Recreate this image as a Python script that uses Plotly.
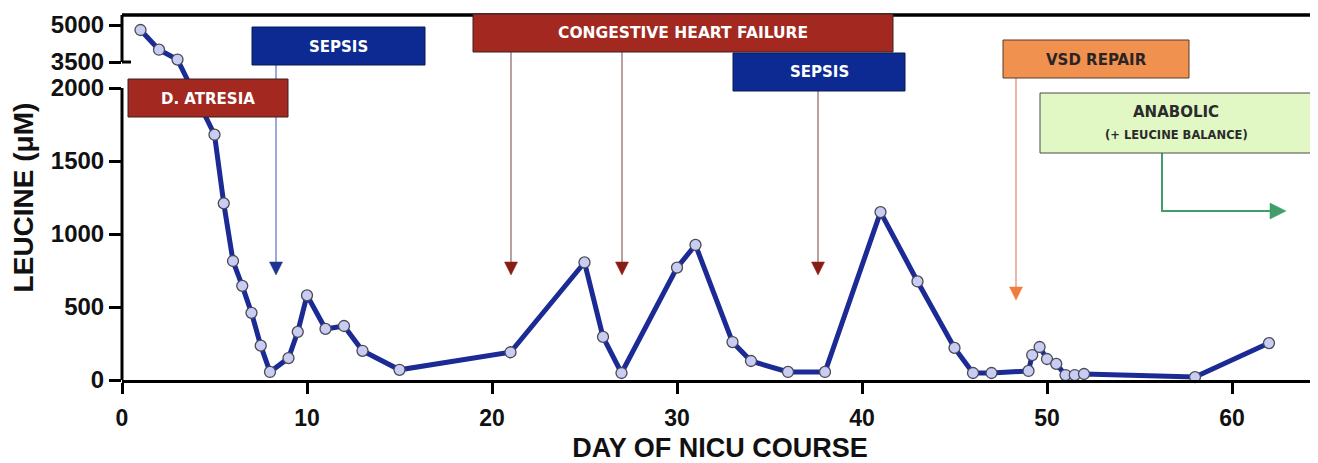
import plotly.graph_objects as go

# ---------------- data ----------------
days = [1, 2, 3, 5, 5.5, 6, 6.5, 7, 7.5, 8, 9, 9.5, 10, 11, 12, 13, 15, 21, 25, 26, 27,
        30, 31, 33, 34, 36, 38, 41, 43, 45, 46, 47, 49, 49.2, 49.6, 50, 50.5, 51, 51.5,
        52, 58, 62]
leucine = [4800, 4000, 3600, 1680, 1210, 815, 645, 460, 235, 55, 150, 330, 580, 350, 370,
           200, 70, 190, 805, 295, 48, 770, 925, 260, 130, 55, 55, 1150, 675, 220, 48, 48,
           62, 171, 226, 144, 110, 34, 34, 41, 20, 253]

y_ticks = [0, 500, 1000, 1500, 2000, 3500, 5000]
x_ticks = [0, 10, 20, 30, 40, 50, 60]

event_labels = ["D. ATRESIA", "SEPSIS", "CONGESTIVE HEART FAILURE", "SEPSIS", "VSD REPAIR"]
anabolic_lines = ["ANABOLIC", "(+ LEUCINE BALANCE)"]

# ---------------- broken y-axis mapping ----------------
BREAK_LO, BREAK_HI, TOP_TICK = 2000, 3500, 5000
D_HI, D_TOP_TICK, D_MAX = 2178, 2431, 2500


def disp(v):
    if v <= BREAK_LO:
        return v
    return D_HI + (v - BREAK_HI) * (D_TOP_TICK - D_HI) / (TOP_TICK - BREAK_HI)


y_disp = [disp(v) for v in leucine]

# ---------------- layout (page pixels; page body has an 8px margin) ----------------
OFF = 8
W, H = 1318 - OFF, 463 - OFF
PLOT_L, PLOT_R, PLOT_T, PLOT_B = 122, 1318, 15, 380   # in page pixels
L, R, T, B = PLOT_L - OFF, 0, PLOT_T - OFF, 463 - PLOT_B
PW, PH = PLOT_R - PLOT_L, PLOT_B - PLOT_T


def px(x):
    return (x - PLOT_L) / PW


def py(y):
    return (PLOT_B - y) / PH


FONT = "Liberation Sans"
BOXFONT = "DejaVu Sans"

fig = go.Figure()
fig.add_trace(go.Scatter(
    x=days, y=y_disp, mode="lines+markers",
    line=dict(color="#1b2a94", width=5),
    marker=dict(size=11, color="#c9cdf3", line=dict(color="#4a4a55", width=1.3)),
    cliponaxis=False, showlegend=False, hoverinfo="skip"))

shapes = []
annotations = []

# axis segments (broken y axis) + top border
shapes.append(dict(type="line", xref="paper", yref="y", x0=0, x1=0, y0=0, y1=disp(BREAK_LO),
                   line=dict(color="black", width=3)))
shapes.append(dict(type="line", xref="paper", yref="y", x0=0, x1=0, y0=disp(BREAK_HI), y1=D_MAX,
                   line=dict(color="black", width=3)))
shapes.append(dict(type="line", xref="paper", yref="y", x0=0, x1=px(131), y0=disp(BREAK_HI),
                   y1=disp(BREAK_HI), line=dict(color="black", width=3)))
shapes.append(dict(type="line", xref="paper", yref="paper", x0=0, x1=1, y0=1, y1=1,
                   line=dict(color="black", width=3.5)))


def box(x0, x1, y0, y1, fill, border="#3a2020"):
    shapes.append(dict(type="rect", xref="paper", yref="paper",
                       x0=px(x0), x1=px(x1), y0=py(y1), y1=py(y0),
                       fillcolor=fill, line=dict(color=border, width=1), layer="above"))


def text(x, y, s, color, size):
    annotations.append(dict(xref="paper", yref="paper", x=px(x), y=py(y), text=s,
                            showarrow=False, xanchor="center", yanchor="middle",
                            font=dict(family=BOXFONT, size=size, color=color, weight="bold")))


def vline(x, y0, y1, color, width=1.6):
    shapes.append(dict(type="line", xref="paper", yref="paper", x0=px(x), x1=px(x),
                       y0=py(y0), y1=py(y1), line=dict(color=color, width=width), layer="above"))


def tri_down(x, ytop, ytip, color, half=6.5):
    path = "M {} {} L {} {} L {} {} Z".format(px(x - half), py(ytop), px(x + half), py(ytop),
                                              px(x), py(ytip))
    shapes.append(dict(type="path", xref="paper", yref="paper", path=path,
                       fillcolor=color, line=dict(color=color, width=0.5), layer="above"))


# arrows (drawn first, boxes on top)
vline(276, 65, 264, "#8595d0")
tri_down(276, 262, 275, "#1d3590")
vline(511, 52, 264, "#a98a8a")
tri_down(511, 262, 275, "#8b1c14")
vline(622, 52, 264, "#a98a8a")
tri_down(622, 262, 275, "#8b1c14")
vline(818, 91, 264, "#a98a8a")
tri_down(818, 262, 275, "#8b1c14")
vline(1016, 78, 288, "#e8a294")
tri_down(1016, 287, 300, "#f07c3e")

# anabolic green elbow arrow
green = "#3f9e6a"
shapes.append(dict(type="path", xref="paper", yref="paper",
                   path="M {} {} L {} {} L {} {}".format(px(1162), py(153), px(1162), py(211),
                                                          px(1272), py(211)),
                   line=dict(color=green, width=2), layer="above"))
shapes.append(dict(type="path", xref="paper", yref="paper",
                   path="M {} {} L {} {} L {} {} Z".format(px(1270), py(203), px(1270), py(219),
                                                           px(1286), py(211)),
                   fillcolor=green, line=dict(color=green, width=0.5), layer="above"))

# event boxes
dark_red, blue, orange = "#a3281f", "#0c2a92", "#f0914f"
box(128, 288, 79, 117, dark_red)
text(208, 98.5, event_labels[0], "white", 15)
box(252, 425, 27, 65, blue, "#0a1a50")
text(338.5, 46.5, event_labels[1], "white", 15)
box(473, 893, 14, 52, dark_red)
text(683, 33.5, event_labels[2], "white", 15.5)
box(733, 905, 53, 91, blue, "#0a1a50")
text(819, 72.5, event_labels[3], "white", 15)
box(1003, 1189, 40, 78, orange, "#5a3a2a")
text(1096, 59.5, event_labels[4], "#2b2424", 15)
box(1040, 1312, 93, 153, "#e1f8c4", "#4a4a4a")
text(1176, 112, anabolic_lines[0], "#2b2b2b", 15)
text(1176, 135, anabolic_lines[1], "#2b2b2b", 11.5)

fig.update_layout(
    width=W, height=H,
    margin=dict(l=L, r=R, t=T, b=B, autoexpand=False),
    paper_bgcolor="white", plot_bgcolor="white",
    shapes=shapes, annotations=annotations,
    xaxis=dict(range=[0, PW / 18.5], tickvals=x_ticks,
               ticktext=[str(v) for v in x_ticks],
               ticks="outside", ticklen=11, tickwidth=3, tickcolor="black",
               ticklabelstandoff=4,
               showline=True, linewidth=3, linecolor="black",
               showgrid=False, zeroline=False,
               tickfont=dict(family=FONT, size=23, color="#111", weight="bold"),
               title=dict(text="DAY OF NICU COURSE", standoff=10,
                          font=dict(family=FONT, size=27, color="#111", weight="bold"))),
    yaxis=dict(range=[0, D_MAX], tickvals=[disp(v) for v in y_ticks],
               ticktext=[str(v) for v in y_ticks],
               ticks="outside", ticklen=12, tickwidth=3, tickcolor="black",
               showline=False, showgrid=False, zeroline=False,
               tickfont=dict(family=FONT, size=24, color="#111", weight="bold"),
               title=dict(text="LEUCINE (μM)", standoff=16,
                          font=dict(family=FONT, size=28, color="#111", weight="bold"))),
)

fig.write_html("out.html")
